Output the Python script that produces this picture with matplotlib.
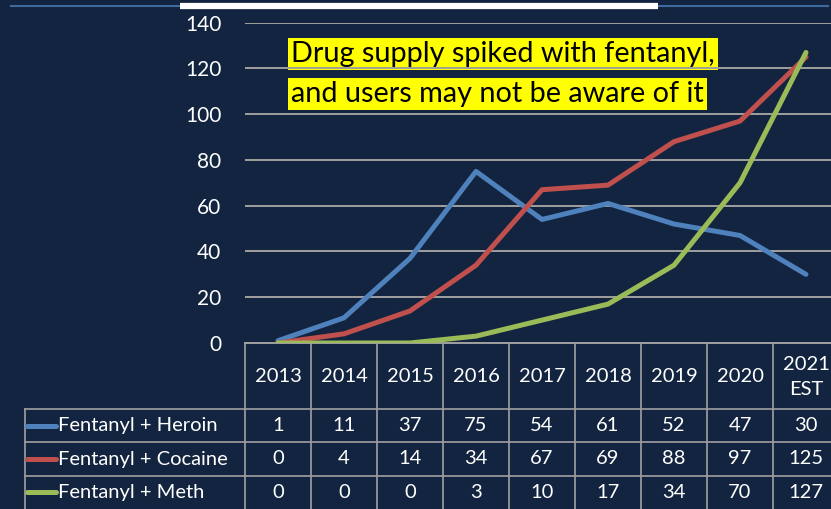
import matplotlib.pyplot as plt

# --- datos ---
years = ['2013', '2014', '2015', '2016', '2017', '2018', '2019', '2020', '2021\nEST']
heroin = [1, 11, 37, 75, 54, 61, 52, 47, 30]
cocaine = [0, 4, 14, 34, 67, 69, 88, 97, 125]
meth = [0, 0, 0, 3, 10, 17, 34, 70, 127]
series = [('Fentanyl + Heroin', heroin, '#4F81BD'),
          ('Fentanyl + Cocaine', cocaine, '#C0504D'),
          ('Fentanyl + Meth', meth, '#9BBB59')]
note = ['Drug supply spiked with fentanyl,', 'and users may not be aware of it']

plt.rcParams['font.family'] = ['Lato', 'DejaVu Sans']

W, H = 831, 509
BG = '#12243F'
GRID = '#A0A0A0'
FS = 14.5
fig = plt.figure(figsize=(W / 100, H / 100), dpi=100, facecolor=BG)

# layout en pixeles
x0, cw = 245, 66
y_zero, y_top = 343, 22.7
row_h = (H - 409) / 3

ax = fig.add_axes([x0 / W, 1 - y_zero / H, len(years) * cw / W, (y_zero - y_top) / H])
ax.set_facecolor('none')
ax.set_xlim(-0.5, len(years) - 0.5)
ax.set_ylim(0, 140)
ax.set_yticks(range(0, 141, 20))
ax.set_xticks([])
ax.yaxis.grid(True, color=GRID, lw=1.4)
ax.set_axisbelow(True)
ax.tick_params(axis='y', length=0, pad=17, labelcolor='white', labelsize=15)
for s in ax.spines.values():
    s.set_visible(False)
for name, vals, col in series:
    ax.plot(range(len(vals)), vals, color=col, lw=3.6, solid_capstyle='round', zorder=3)

# capa para la tabla y adornos, en coordenadas de pixel
ov = fig.add_axes([0, 0, 1, 1], zorder=-1)
ov.set_xlim(0, W)
ov.set_ylim(H, 0)
ov.axis('off')
ov.patch.set_visible(False)

# adorno superior
ov.plot([11, 828], [6, 6], color='#3F6AA0', lw=1.5)
ov.plot([180, 658], [6, 6], color='white', lw=4.5, solid_capstyle='butt')

# tabla
n = len(years)
x_end = x0 + n * cw
for i in range(n + 1):
    ov.plot([x0 + i * cw] * 2, [y_zero, H], color=GRID, lw=1.2)
ov.plot([x0, x_end], [y_zero, y_zero], color=GRID, lw=1.4)
ov.plot([25, 25], [409, H], color=GRID, lw=1.2)
for r in range(3):
    ov.plot([25, x_end], [409 + r * row_h] * 2, color=GRID, lw=1.2)

for i, y in enumerate(years):
    ov.text(x0 + (i + 0.5) * cw, (y_zero + 409) / 2 + 1, y, color='white', fontsize=FS,
            ha='center', va='center', linespacing=1.55)

for r, (name, vals, col) in enumerate(series):
    yc = 409 + (r + 0.5) * row_h
    ov.plot([27, 56], [yc, yc], color=col, lw=3.6, solid_capstyle='round')
    ov.text(58, yc, name, color='white', fontsize=FS, ha='left', va='center')
    for i, v in enumerate(vals):
        ov.text(x0 + (i + 0.5) * cw, yc, str(v), color='white', fontsize=FS,
                ha='center', va='center')

# nota resaltada
for k, line in enumerate(note):
    ov.text(291, 54 + k * 40, line, color='black', fontsize=20.8, ha='left', va='center',
            bbox=dict(facecolor='#FFFF00', edgecolor='none', pad=2.5))

fig.savefig('out.png', dpi=100, facecolor=BG)
